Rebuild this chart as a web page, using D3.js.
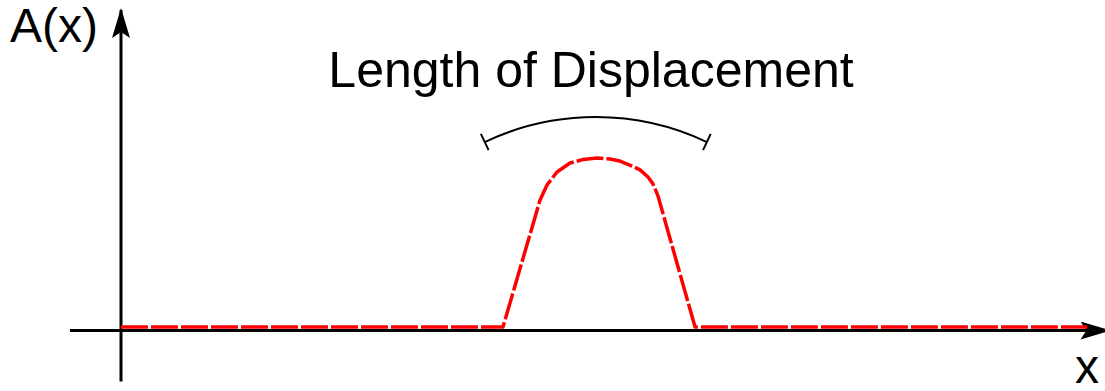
<!DOCTYPE html>
<html><head><meta charset="utf-8">
<script src="https://cdn.jsdelivr.net/npm/d3@7"></script>
<style>body{margin:0;background:#fff}svg{display:block}</style>
</head><body>
<script>
// Curve: amplitude A(x) along x
const curveX = [0, 39.38, 43.20, 43.92, 44.95, 46.29, 47.63, 49.07, 50.41, 51.44, 52.68, 53.51, 54.33, 54.85, 55.36, 59.18, 99.6];
const curveY = [0, 0, 0.747, 0.835, 0.912, 0.965, 0.985, 0.994, 0.988, 0.976, 0.947, 0.924, 0.882, 0.841, 0.771, 0, 0];
// Bracket marking the length of displacement
const bracketX = [37.5, 49.2, 60.4];
const bracketY = [1.088, 1.235, 1.088];
const labels = { y: "A(x)", x: "x", title: "Length of Displacement" };
const axisX = [-5.26, 101.8];
const axisY = [-0.32, 1.865];

const W = 1105, H = 391;
const x = d3.scaleLinear().domain([0, 100]).range([121, 1091]);
const y = d3.scaleLinear().domain([0, 1]).range([327, 157]);

const svg = d3.select("body").append("svg").attr("width", W).attr("height", H);
const defs = svg.append("defs");
defs.append("marker").attr("id", "arr").attr("viewBox", "0 0 30 18")
  .attr("refX", 28).attr("refY", 9).attr("markerWidth", 30).attr("markerHeight", 18)
  .attr("markerUnits", "userSpaceOnUse").attr("orient", "auto")
  .append("path").attr("d", "M0,0 L30,9 L0,18 L6,9 Z").attr("fill", "#000");

// axes
svg.append("line").attr("x1", x(axisX[0])).attr("x2", x(axisX[1]))
  .attr("y1", y(0) + 3.5).attr("y2", y(0) + 3.5)
  .attr("stroke", "#000").attr("stroke-width", 3).attr("marker-end", "url(#arr)");
svg.append("line").attr("x1", x(0)).attr("x2", x(0))
  .attr("y1", y(axisY[0])).attr("y2", y(axisY[1]))
  .attr("stroke", "#000").attr("stroke-width", 3).attr("marker-end", "url(#arr)");

// curve
const pts = curveX.map((d, i) => [d, curveY[i]]);
svg.append("path").datum(pts)
  .attr("d", d3.line().x(d => x(d[0])).y(d => y(d[1])).curve(d3.curveLinear))
  .attr("fill", "none").attr("stroke", "#ff0000").attr("stroke-width", 3.5)
  .attr("stroke-linejoin", "round")
  .attr("stroke-dasharray", "27,3");

// bracket arc
const p0 = [x(bracketX[0]), y(bracketY[0])], pm = [x(bracketX[1]), y(bracketY[1])], p1 = [x(bracketX[2]), y(bracketY[2])];
const half = (p1[0] - p0[0]) / 2, sag = p0[1] - pm[1];
const R = (half * half + sag * sag) / (2 * sag);
svg.append("path").attr("d", `M${p0[0]},${p0[1]} A${R},${R} 0 0 1 ${p1[0]},${p1[1]}`)
  .attr("fill", "none").attr("stroke", "#000").attr("stroke-width", 2);
const cx = (p0[0] + p1[0]) / 2, cy = pm[1] + R;
[p0, p1].forEach(p => {
  const dx = p[0] - cx, dy = p[1] - cy, L = Math.hypot(dx, dy);
  const ux = dx / L, uy = dy / L;
  svg.append("line").attr("x1", p[0] - ux * 9).attr("y1", p[1] - uy * 9)
    .attr("x2", p[0] + ux * 9).attr("y2", p[1] + uy * 9)
    .attr("stroke", "#000").attr("stroke-width", 2);
});

const font = "'Liberation Sans', Arial, sans-serif";
svg.append("text").attr("x", 10).attr("y", 42).attr("font-family", font).attr("font-size", 48).text(labels.y);
svg.append("text").attr("x", 1099).attr("y", 383).attr("text-anchor", "end").attr("font-family", font).attr("font-size", 48).text(labels.x);
svg.append("text").attr("x", 591).attr("y", 87).attr("text-anchor", "middle").attr("font-family", font).attr("font-size", 50).text(labels.title);
</script>
</body></html>
